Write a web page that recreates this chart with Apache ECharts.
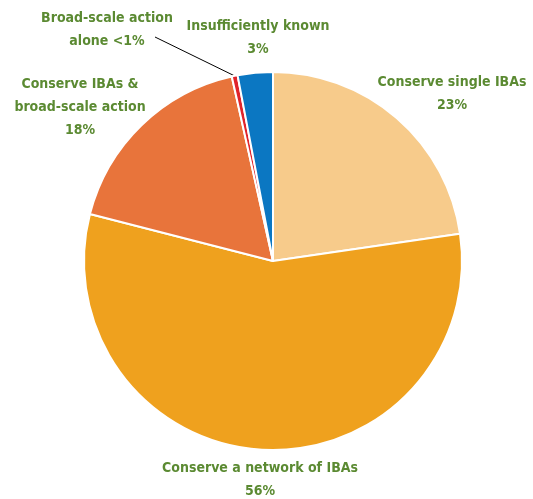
<!DOCTYPE html>
<html>
<head>
<meta charset="utf-8">
<script src="https://cdn.jsdelivr.net/npm/echarts@6/dist/echarts.min.js"></script>
<style>
  html, body { margin: 0; padding: 0; background: #fff; }
  #chart { width: 533px; height: 499px; }
</style>
</head>
<body>
<div id="chart"></div>
<script>
// data
var names = ['Conserve single IBAs', 'Conserve a network of IBAs', 'Conserve IBAs &\nbroad-scale action', 'Broad-scale action\nalone', 'Insufficiently known'];
var values = [22.7, 56.3, 17.5, 0.5, 3];
var pctText = ['23%', '56%', '18%', '<1%', '3%'];
var colors = ['#F7CB8B', '#EFA11E', '#E8743B', '#E0242B', '#0B77C2'];

// where each label sits (center of text block)
var labelPos = [[452, 94], [260, 480], [80, 107], [107, 30], [258, 38]];
// outer end of the leader line for the tiny slice
var leaderEnd = [155, 37];

var chart = echarts.init(document.getElementById('chart'));

var data = names.map(function (n, i) {
  return {
    name: n,
    value: values[i],
    itemStyle: { color: colors[i] },
    labelLine: { show: i === 3, length: 8, length2: 8, lineStyle: { color: '#000', width: 1 } }
  };
});

chart.setOption({
  animation: false,
  series: [{
    type: 'pie',
    center: [273, 261],
    radius: [0, 189],
    startAngle: 90,
    clockwise: true,
    data: data,
    itemStyle: { borderColor: '#fff', borderWidth: 2 },
    label: {
      show: true,
      position: 'outside',
      color: '#5B8A32',
      fontFamily: "'Liberation Sans Narrow', 'DejaVu Sans Condensed', sans-serif",
      fontWeight: 'bold',
      fontSize: 14,
      lineHeight: 23,
      align: 'center',
      overflow: 'none',
      width: 300,
      formatter: function (p) {
        var sep = p.dataIndex === 3 ? ' ' : '\n';
        return p.name + sep + pctText[p.dataIndex];
      }
    },
    labelLayout: function (p) {
      var pos = labelPos[p.dataIndex];
      var out = { x: pos[0], y: pos[1], align: 'center', verticalAlign: 'middle' };
      if (p.dataIndex === 3 && p.labelLinePoints) {
        out.labelLinePoints = [p.labelLinePoints[0], leaderEnd];
      }
      return out;
    }
  }]
});
</script>
</body>
</html>
